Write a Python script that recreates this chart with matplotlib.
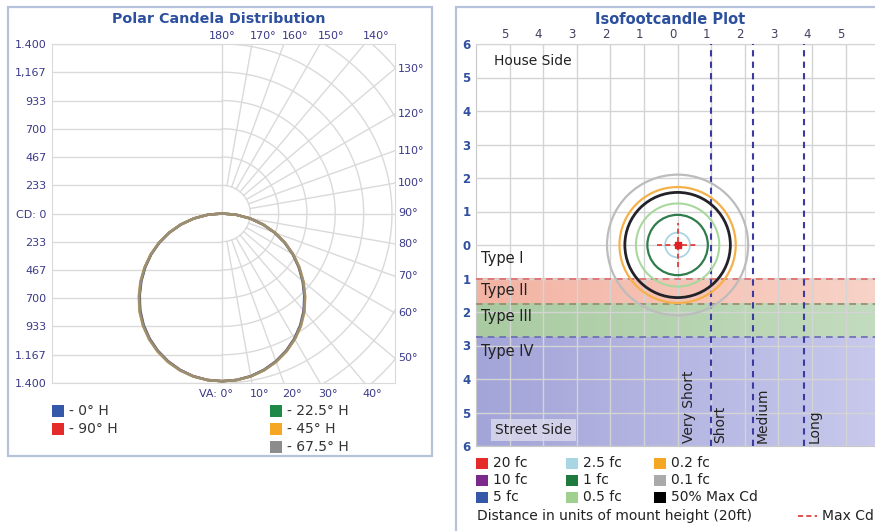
import numpy as np
import matplotlib
matplotlib.use("Agg")
import matplotlib.pyplot as plt
import matplotlib.transforms as mtransforms
from matplotlib.patches import Rectangle, Circle
from matplotlib.colors import LinearSegmentedColormap

plt.rcParams["font.family"] = ["DejaVu Sans"]

# -------------------------------------------------------------------
# Data: polar candela distribution
# -------------------------------------------------------------------
va_angles = [0, 5, 10, 15, 20, 25, 30, 35, 40, 45, 50, 55, 60, 65, 70, 75, 80, 85, 90]
cd_0h = [1385, 1380, 1364, 1336, 1298, 1250, 1192, 1124, 1046, 958, 866, 770, 672, 568, 460, 349, 234, 117, 0]
cd_90h = [1385, 1380, 1365, 1338, 1300, 1252, 1195, 1128, 1050, 962, 870, 774, 675, 571, 462, 350, 235, 117, 0]
cd_22h = [1385, 1381, 1366, 1339, 1302, 1254, 1197, 1130, 1052, 964, 872, 776, 676, 572, 463, 351, 235, 118, 0]
cd_45h = [1385, 1381, 1367, 1341, 1305, 1258, 1201, 1135, 1058, 970, 878, 781, 680, 575, 466, 353, 236, 118, 0]
cd_67h = [1385, 1381, 1366, 1340, 1303, 1256, 1199, 1132, 1055, 967, 875, 778, 678, 574, 465, 352, 236, 118, 0]

series_names = ["- 0° H", "- 90° H", "- 22.5° H", "- 45° H", "- 67.5° H"]
series_values = [cd_0h, cd_90h, cd_22h, cd_45h, cd_67h]
series_colors = ["#3558a8", "#e52a2a", "#1f8a48", "#f5a623", "#8c8c8c"]

cd_ticks = [0, 233, 467, 700, 933, 1167, 1400]
cd_labels_top = ["CD: 0", "233", "467", "700", "933", "1,167", "1.400"]
cd_labels_bottom = ["CD: 0", "233", "467", "700", "933", "1.167", "1.400"]
arc_radii = [233, 467, 700, 933, 1167, 1400, 1633, 1867]
grid_angles = list(range(0, 181, 10))

# -------------------------------------------------------------------
# Data: isofootcandle plot
# -------------------------------------------------------------------
iso_levels = ["2.5 fc", "1 fc", "0.5 fc", "0.2 fc", "0.1 fc", "50% Max Cd"]
iso_radius = [0.37, 0.90, 1.24, 1.73, 2.10, 1.57]
iso_colors = ["#a9d6e5", "#2f7d4c", "#a8d89e", "#f6b04a", "#bcbcbc", "#222228"]
iso_widths = [1.3, 1.6, 1.5, 1.6, 1.6, 2.0]

type_names = ["Type I", "Type II", "Type III", "Type IV"]
type_label_y = [-0.40, -1.37, -2.12, -3.17]
type_edges = [-1.0, -1.75, -2.75, -6.0]

range_names = ["Very Short", "Short", "Medium", "Long"]
range_label_x = [0.33, 1.28, 2.53, 4.08]
range_edges = [1.0, 2.25, 3.75]

legend_items = [("20 fc", "#e52a2a"), ("10 fc", "#7b2a8c"), ("5 fc", "#3558a8"),
                ("2.5 fc", "#a9d6e5"), ("1 fc", "#1f7a3e"), ("0.5 fc", "#9fd08f"),
                ("0.2 fc", "#f5a623"), ("0.1 fc", "#aaaaaa"), ("50% Max Cd", "#000000")]

W, H = 875, 531


def fx(x):
    return x / W


def fy(y):
    return 1 - y / H


TITLE_C = "#2c4f9e"
TICK_C = "#3a3a88"
GRID_C = "#dadada"
TXT_C = "#222222"

fig = plt.figure(figsize=(W / 100, H / 100), dpi=100)
fig.patch.set_facecolor("white")

# panel frames
fig.patches.append(Rectangle((fx(8), fy(456)), fx(424), 449 / H, transform=fig.transFigure,
                             fill=False, edgecolor="#b6c2dc", lw=1.6))
fig.patches.append(Rectangle((fx(456), fy(560)), fx(460), 553 / H, transform=fig.transFigure,
                             fill=False, edgecolor="#b6c2dc", lw=1.6))

fig.text(fx(219), fy(19), "Polar Candela Distribution", ha="center", va="center",
         fontsize=10.3, fontweight="bold", color=TITLE_C)
fig.text(fx(670), fy(19), "Isofootcandle Plot", ha="center", va="center",
         fontsize=10.5, fontweight="bold", color=TITLE_C)

# -------------------------------------------------------------------
# Left: polar candela
# -------------------------------------------------------------------
XMAX, YMAX = 1425, 1400
ax = fig.add_axes([fx(52), fy(383), 343 / W, 339 / H])
ax.set_xlim(-1400, XMAX)
ax.set_ylim(-YMAX, YMAX)
for s in ax.spines.values():
    s.set_color(GRID_C)
ax.set_xticks([])
ys = [-v for v in cd_ticks[::-1]] + cd_ticks[1:]
ylabs = cd_labels_bottom[::-1] + cd_labels_top[1:]
ax.set_yticks(ys)
ax.set_yticklabels(ylabs)
ax.tick_params(axis="y", length=0, pad=4, labelsize=8, labelcolor=TICK_C)

ax.hlines(ys, -1400, 0, color=GRID_C, lw=1, zorder=1)
ax.axvline(0, color=GRID_C, lw=1, zorder=1)
t = np.radians(np.linspace(0, 180, 181))
for r in arc_radii:
    ax.plot(r * np.sin(t), -r * np.cos(t), color=GRID_C, lw=1, zorder=1)
for a in grid_angles[1:-1]:
    ar = np.radians(a)
    ax.plot([233 * np.sin(ar), 4000 * np.sin(ar)], [-233 * np.cos(ar), -4000 * np.cos(ar)],
            color=GRID_C, lw=1, zorder=1)

# angle labels where the rays meet the plot box
for a in grid_angles:
    ar = np.radians(a)
    dx, dy = np.sin(ar), -np.cos(ar)
    tx = XMAX / dx if dx > 1e-9 else np.inf
    ty = YMAX / abs(dy) if abs(dy) > 1e-9 else np.inf
    if a == 0:
        ax.annotate("VA: 0°", (0, -YMAX), xytext=(11, -6), textcoords="offset pixels",
                    ha="right", va="top", fontsize=8, color=TICK_C, annotation_clip=False)
    elif a == 180:
        ax.annotate("180°", (0, YMAX), xytext=(0, 3), textcoords="offset pixels",
                    ha="center", va="bottom", fontsize=8, color=TICK_C, annotation_clip=False)
    elif ty <= tx:
        top = dy > 0
        ax.annotate(f"{a}°", (ty * dx, YMAX if top else -YMAX),
                    xytext=(-2, 3 if top else -6), textcoords="offset pixels",
                    ha="left", va="bottom" if top else "top", fontsize=8, color=TICK_C,
                    annotation_clip=False)
    else:
        ax.annotate(f"{a}°", (XMAX, tx * dy), xytext=(3, 0), textcoords="offset pixels",
                    ha="left", va="center", fontsize=8, color=TICK_C, annotation_clip=False)

va = np.radians(va_angles)
for vals, col in zip(series_values, series_colors):
    v = np.array(vals, dtype=float)
    xs = np.concatenate([-(v * np.sin(va))[::-1], v * np.sin(va)])
    yv = np.concatenate([-(v * np.cos(va))[::-1], -v * np.cos(va)])
    ax.plot(xs, yv, color=col, lw=1.8, alpha=0.8, zorder=3)

# left legend
left_leg_pos = [(52, 411), (52, 429), (270, 411), (270, 429), (270, 447)]
for (lx, ly), name, col in zip(left_leg_pos, series_names, series_colors):
    fig.patches.append(Rectangle((fx(lx), fy(ly + 6)), 12 / W, 12 / H, transform=fig.transFigure,
                                 facecolor=col, edgecolor="none"))
    fig.text(fx(lx + 17), fy(ly), name, ha="left", va="center", fontsize=10, color="#333333")

# -------------------------------------------------------------------
# Right: isofootcandle
# -------------------------------------------------------------------
axr = fig.add_axes([fx(476), fy(446), 403.2 / W, 402 / H])
axr.set_xlim(-6, 6)
axr.set_ylim(-6, 6)
for s in axr.spines.values():
    s.set_color("#c8c8c8")
axr.xaxis.tick_top()
axr.set_xticks(range(-5, 6))
axr.set_xticklabels([str(abs(i)) for i in range(-5, 6)])
axr.set_yticks(range(-6, 7))
axr.set_yticklabels([str(abs(i)) for i in range(-6, 7)])
axr.tick_params(length=0, labelsize=8.5)
axr.tick_params(axis="x", pad=2, labelcolor="#404060")
axr.tick_params(axis="y", pad=4, labelcolor="#3050a0")
for lbl in axr.get_yticklabels():
    lbl.set_fontweight("bold")
shift = mtransforms.ScaledTranslation(-0.05, 0, fig.dpi_scale_trans)
for lbl in axr.get_xticklabels():
    lbl.set_transform(lbl.get_transform() + shift)
axr.grid(True, color="#d4d4d4", lw=1, zorder=2)
axr.set_axisbelow(False)

band_colors = [("#f3b3a3", "#f8d3c8"), ("#a9cba1", "#c3dcbf"), ("#a3a4d8", "#c8c9ec")]
grad = np.linspace(0, 1, 256)[None, :]
for (c0, c1), y_top, y_bot in zip(band_colors, type_edges[:-1], type_edges[1:]):
    cm = LinearSegmentedColormap.from_list("band", [c0, c1])
    axr.imshow(grad, extent=[-6, 6, y_bot, y_top], aspect="auto", cmap=cm, zorder=1)
axr.set_xlim(-6, 6)
axr.set_ylim(-6, 6)

edge_styles = ["#dd6a6a", "#9a8868", "#6a6ab4"]
for y0, c in zip(type_edges[:-1], edge_styles):
    axr.axhline(y0, color=c, lw=1.2, ls=(0, (4, 3)), zorder=3)
for x0 in range_edges:
    axr.axvline(x0, color="#3a3aa0", lw=1.5, ls=(0, (3, 2.5)), zorder=4)

for name, ty in zip(type_names, type_label_y):
    axr.text(-5.85, ty, name, ha="left", va="center", fontsize=10.5, color=TXT_C, zorder=6)
for name, rx in zip(range_names, range_label_x):
    axr.text(rx, -5.92, name, rotation=90, ha="center", va="bottom", fontsize=10,
             color=TXT_C, zorder=6)

axr.text(-5.45, 5.5, "House Side", ha="left", va="center", fontsize=10, color=TXT_C, zorder=6)
axr.text(-5.43, -5.52, "Street Side", ha="left", va="center", fontsize=10, color=TXT_C, zorder=6,
         bbox=dict(boxstyle="square,pad=0.3", facecolor="#dcdcee", edgecolor="none", alpha=0.8))

for r, col, lw in zip(iso_radius, iso_colors, iso_widths):
    axr.add_patch(Circle((0, 0), r, fill=False, edgecolor=col, lw=lw, zorder=5))

max_cd = (0.0, 0.0)
axr.plot([max_cd[0] - 0.6, max_cd[0] + 0.6], [max_cd[1], max_cd[1]], color="#e03030",
         lw=1.2, ls=(0, (3, 2)), zorder=6)
axr.plot([max_cd[0], max_cd[0]], [max_cd[1] - 0.65, max_cd[1] + 0.65], color="#e03030",
         lw=1.2, ls=(0, (3, 2)), zorder=6)
axr.plot([max_cd[0]], [max_cd[1]], marker="s", ms=5, color="#e02020", zorder=7)

# right legend
col_x = [476, 566, 654]
row_y = [463, 480, 497]
for i, (name, col) in enumerate(legend_items):
    lx, ly = col_x[i // 3], row_y[i % 3]
    fig.patches.append(Rectangle((fx(lx), fy(ly + 6)), 12 / W, 11 / H, transform=fig.transFigure,
                                 facecolor=col, edgecolor="none"))
    fig.text(fx(lx + 17), fy(ly), name, ha="left", va="center", fontsize=10, color=TXT_C)

fig.text(fx(477), fy(516), "Distance in units of mount height (20ft)", ha="left", va="center",
         fontsize=10, color=TXT_C)
fig.lines.append(plt.Line2D([fx(798), fx(817)], [fy(516), fy(516)], transform=fig.transFigure,
                            color="#e03030", lw=1.2, ls=(0, (3, 2))))
fig.text(fx(822), fy(516), "Max Cd", ha="left", va="center", fontsize=10, color=TXT_C)

fig.savefig("out.png", dpi=100)
